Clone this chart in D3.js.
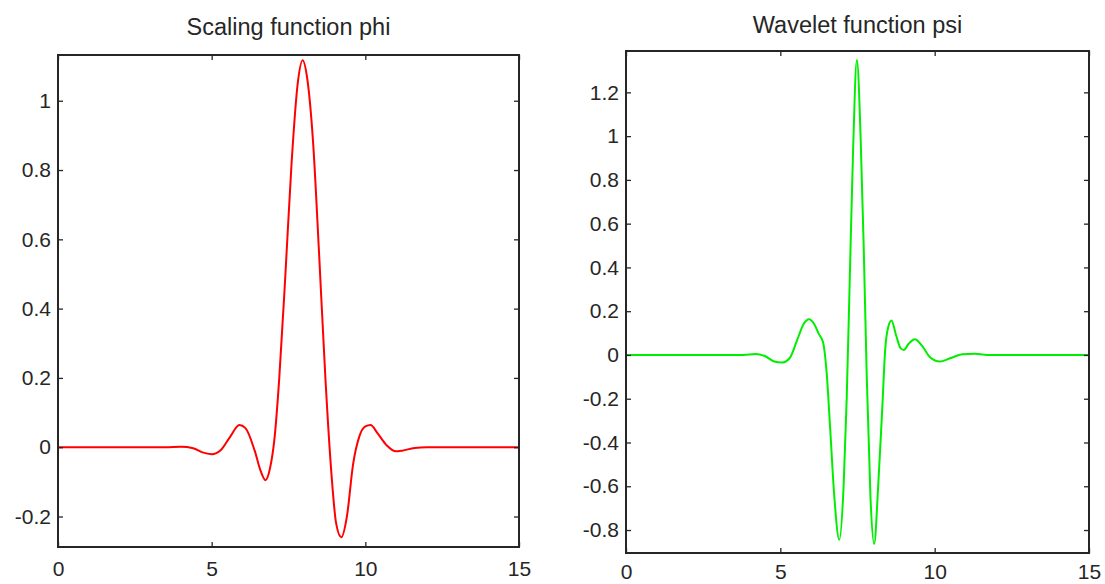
<!DOCTYPE html>
<html lang="en">
<head>
    <meta charset="UTF-8">
    <title>Scaling and wavelet functions</title>
    <script src="https://d3js.org/d3.v7.min.js"></script>
    <style>
        body { margin: 0; background: #fff; }
        svg { display: block; }
        .tick text { font-family: "Liberation Sans", Arial, sans-serif; font-size: 21px; fill: #262626; }
        .title { font-family: "Liberation Sans", Arial, sans-serif; font-size: 23.5px; fill: #262626; }
    </style>
</head>
<body>
    <div id="chart"></div>

    <script>
        // values
        const xTicks = [0, 5, 10, 15];
        const phiTicks = [-0.2, 0, 0.2, 0.4, 0.6, 0.8, 1];
        const psiTicks = [-0.8, -0.6, -0.4, -0.2, 0, 0.2, 0.4, 0.6, 0.8, 1, 1.2];

        const phiX = [0, 3.5, 4.0, 4.4, 4.7, 5.0, 5.3, 5.6, 5.9, 6.1, 6.4, 6.6, 6.75, 6.9, 7.05,
            7.2, 7.4, 7.6, 7.8, 7.96, 8.1, 8.3, 8.5, 8.7, 8.9, 9.05, 9.22, 9.4, 9.6, 9.8,
            10.0, 10.17, 10.4, 10.7, 11.0, 11.2, 11.6, 12, 15];
        const phiY = [0, 0, 0.001, -0.003, -0.015, -0.02, -0.008, 0.03, 0.064, 0.055, -0.01, -0.07, -0.095, -0.06, 0.03,
            0.2, 0.5, 0.82, 1.05, 1.117, 1.07, 0.88, 0.55, 0.2, -0.08, -0.22, -0.26, -0.2, -0.05, 0.03,
            0.06, 0.064, 0.04, 0.005, -0.012, -0.01, -0.002, 0, 0];

        const psiX = [0, 3.8, 4.2, 4.5, 4.8, 5.05, 5.3, 5.55, 5.75, 5.93, 6.1, 6.25, 6.38, 6.5, 6.62,
            6.75, 6.91, 7.05, 7.15, 7.25, 7.35, 7.48, 7.6, 7.7, 7.8, 7.92, 8.04, 8.17, 8.3, 8.4,
            8.5, 8.6, 8.75, 8.9, 9.0, 9.15, 9.36, 9.6, 9.85, 10.17, 10.5, 10.9, 11.3, 11.8, 15];
        const psiY = [0, 0, 0.004, -0.005, -0.03, -0.035, -0.015, 0.07, 0.14, 0.163, 0.14, 0.095, 0.06, -0.08, -0.35,
            -0.65, -0.845, -0.6, -0.2, 0.35, 0.9, 1.348, 1.0, 0.5, -0.1, -0.65, -0.864, -0.6, -0.25, 0.03,
            0.13, 0.157, 0.09, 0.03, 0.023, 0.05, 0.072, 0.04, -0.01, -0.03, -0.015, 0.003, 0.005, 0, 0];

        const width = 1105, height = 584;

        const svg = d3.select("#chart").append("svg")
            .attr("width", width)
            .attr("height", height);

        svg.append("rect").attr("width", width).attr("height", height).attr("fill", "#fff");

        const fmt = d => String(+d.toFixed(1));

        function panel(o) {
            const x = d3.scaleLinear().domain([0, 15]).range([o.left, o.right]);
            const y = d3.scaleLinear().domain(o.yDomain).range([o.bottom, o.top]);
            const g = svg.append("g");

            // data line
            const line = d3.line()
                .x(d => x(d[0]))
                .y(d => y(d[1]))
                .curve(d3.curveMonotoneX);
            g.append("path")
                .datum(o.xs.map((v, i) => [v, o.ys[i]]))
                .attr("fill", "none")
                .attr("stroke", o.color)
                .attr("stroke-width", 2)
                .attr("d", line);

            // axes with inward ticks (box on)
            const styleAxis = sel => {
                sel.select(".domain").remove();
                sel.selectAll(".tick line").attr("stroke", "#262626").attr("stroke-width", 1.3);
            };
            g.append("g").attr("transform", `translate(0,${o.bottom})`)
                .call(d3.axisBottom(x).tickValues(xTicks).tickFormat(fmt).tickSizeInner(-5))
                .call(styleAxis)
                .selectAll(".tick text").attr("dy", "0.71em").attr("y", o.xLabelGap);
            g.append("g").attr("transform", `translate(0,${o.top})`)
                .call(d3.axisTop(x).tickValues(xTicks).tickFormat("").tickSizeInner(-5))
                .call(styleAxis);
            g.append("g").attr("transform", `translate(${o.left},0)`)
                .call(d3.axisLeft(y).tickValues(o.yTicks).tickFormat(fmt).tickSizeInner(-5))
                .call(styleAxis)
                .selectAll(".tick text").attr("x", -7);
            g.append("g").attr("transform", `translate(${o.right},0)`)
                .call(d3.axisRight(y).tickValues(o.yTicks).tickFormat("").tickSizeInner(-5))
                .call(styleAxis);

            g.append("rect")
                .attr("x", o.left).attr("y", o.top)
                .attr("width", o.right - o.left).attr("height", o.bottom - o.top)
                .attr("fill", "none")
                .attr("stroke", "#262626")
                .attr("stroke-width", 2);

            g.append("text")
                .attr("class", "title")
                .attr("x", (o.left + o.right) / 2)
                .attr("y", o.titleY)
                .attr("text-anchor", "middle")
                .text(o.title);
        }

        panel({
            left: 58, right: 519, top: 55, bottom: 547,
            yDomain: [-0.288, 1.132], yTicks: phiTicks,
            xs: phiX, ys: phiY, color: "#ff0000",
            title: "Scaling function phi", titleY: 35, xLabelGap: 14
        });

        panel({
            left: 626, right: 1089, top: 51, bottom: 553,
            yDomain: [-0.905, 1.389], yTicks: psiTicks,
            xs: psiX, ys: psiY, color: "#00ee00",
            title: "Wavelet function psi", titleY: 33, xLabelGap: 11
        });
    </script>
</body>
</html>
